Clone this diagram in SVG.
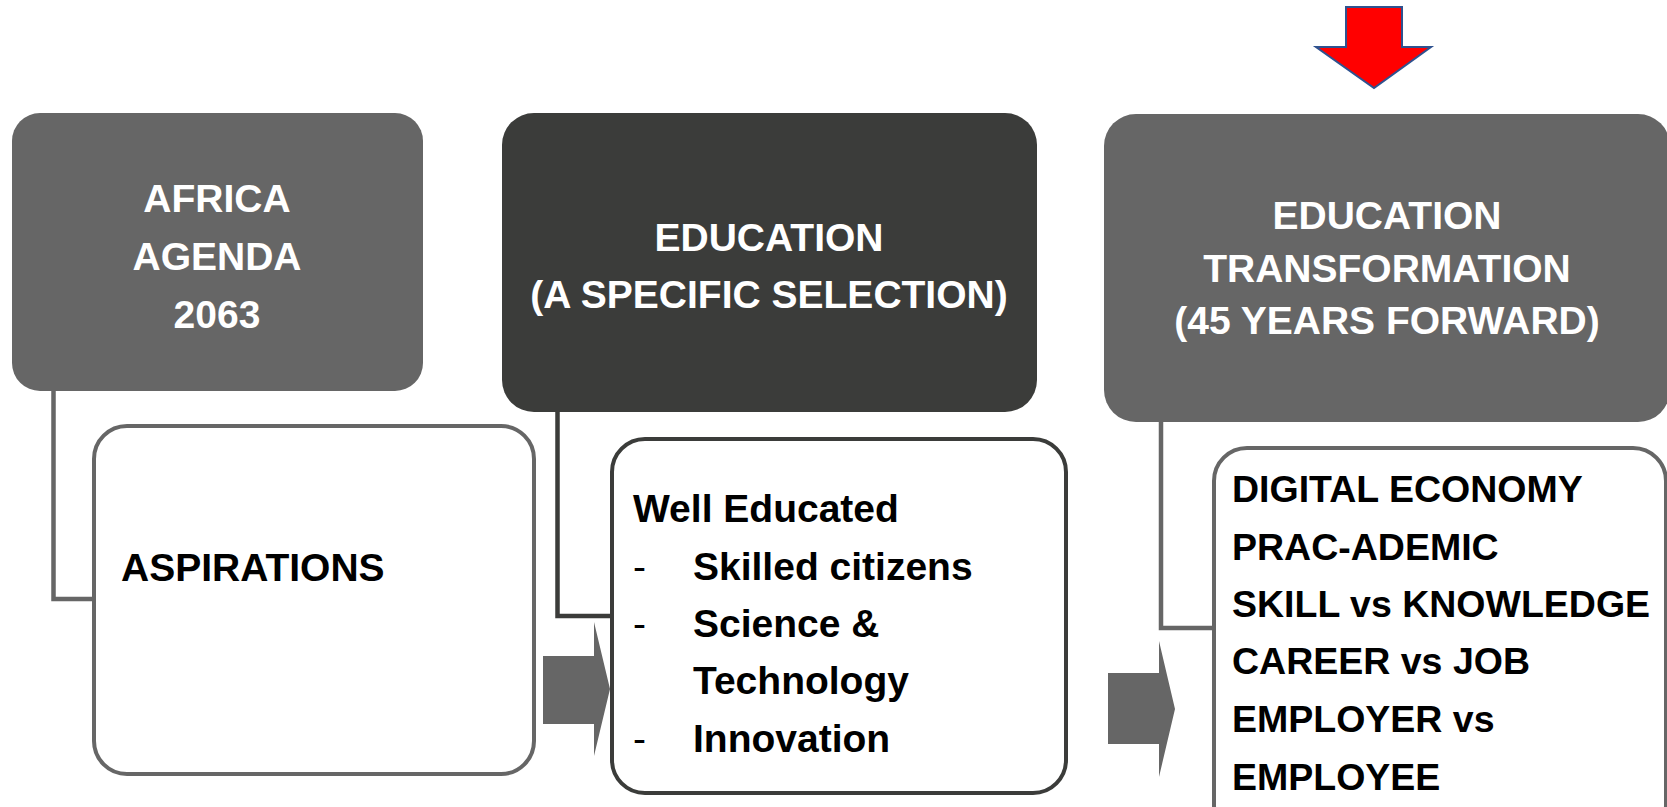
<svg xmlns="http://www.w3.org/2000/svg" width="1667" height="807" viewBox="0 0 1667 807">
<style>
.hdr{font-family:"Liberation Sans",Arial,sans-serif;font-weight:bold;font-size:39px;fill:#ffffff;text-anchor:middle}
.body{font-family:"Liberation Sans",Arial,sans-serif;font-weight:bold;font-size:39px;fill:#000000}
.dash{font-family:"Liberation Sans",Arial,sans-serif;font-weight:normal;font-size:39px;fill:#000000}
.grey{fill:#666666}
.dark{fill:#3b3c3a}
.child{fill:#ffffff;stroke-width:4}
.conn{fill:none;stroke-width:4.5}
</style>
<rect width="1667" height="807" fill="#ffffff"/>
<g id="connectors">
<polyline class="conn" stroke="#666666" points="53.5,391 53.5,599 94,599"/>
<polyline class="conn" stroke="#3b3c3a" points="557.5,412 557.5,616 612,616"/>
<polyline class="conn" stroke="#666666" points="1161,422 1161,628 1214,628"/>
</g>
<g id="arrow-1">
<polygon class="grey" points="543,656 594,656 594,622 610,689 594,756 594,724 543,724"/>
</g>
<g id="arrow-2">
<polygon class="grey" points="1108,673 1159,673 1159,641 1175,709 1159,777 1159,744 1108,744"/>
</g>
<g id="red-arrow">
<polygon points="1346,7 1402,7 1402,47 1431,47 1374,88 1316,47 1346,47" fill="#ff0000" stroke="#2f528f" stroke-width="2" stroke-linejoin="miter"/>
</g>
<g id="node-africa">
<rect class="grey" x="12" y="113" width="411" height="278" rx="28"/>
<text class="hdr" x="217" y="212">AFRICA</text>
<text class="hdr" x="217" y="270">AGENDA</text>
<text class="hdr" x="217" y="328">2063</text>
</g>
<g id="node-aspirations">
<rect class="child" stroke="#666666" x="94" y="426" width="440" height="348" rx="33"/>
<text class="body" x="121" y="581">ASPIRATIONS</text>
</g>
<g id="node-education">
<rect class="dark" x="502" y="113" width="535" height="299" rx="32"/>
<text class="hdr" x="769" y="251">EDUCATION</text>
<text class="hdr" x="769" y="308">(A SPECIFIC SELECTION)</text>
</g>
<g id="node-well-educated">
<rect class="child" stroke="#3b3c3a" x="612" y="439" width="454" height="354" rx="33"/>
<text class="body" x="633" y="522">Well Educated</text>
<text class="dash" x="633" y="580">-</text>
<text class="body" x="693" y="580">Skilled citizens</text>
<text class="dash" x="633" y="637">-</text>
<text class="body" x="693" y="637">Science &amp;</text>
<text class="body" x="693" y="694">Technology</text>
<text class="dash" x="633" y="752">-</text>
<text class="body" x="693" y="752">Innovation</text>
</g>
<g id="node-transformation">
<rect class="grey" x="1104" y="114" width="566" height="308" rx="32"/>
<text class="hdr" x="1387" y="229">EDUCATION</text>
<text class="hdr" x="1387" y="282">TRANSFORMATION</text>
<text class="hdr" x="1387" y="334">(45 YEARS FORWARD)</text>
</g>
<g id="node-digital">
<rect class="child" stroke="#666666" x="1214" y="448" width="452" height="390" rx="33"/>
<text class="body" style="font-size:37.5px" x="1232" y="502">DIGITAL ECONOMY</text>
<text class="body" style="font-size:37.5px" x="1232" y="560">PRAC-ADEMIC</text>
<text class="body" style="font-size:37.5px" x="1232" y="617">SKILL vs KNOWLEDGE</text>
<text class="body" style="font-size:37.5px" x="1232" y="674">CAREER vs JOB</text>
<text class="body" style="font-size:37.5px" x="1232" y="732">EMPLOYER vs</text>
<text class="body" style="font-size:37.5px" x="1232" y="790">EMPLOYEE</text>
</g>
</svg>
